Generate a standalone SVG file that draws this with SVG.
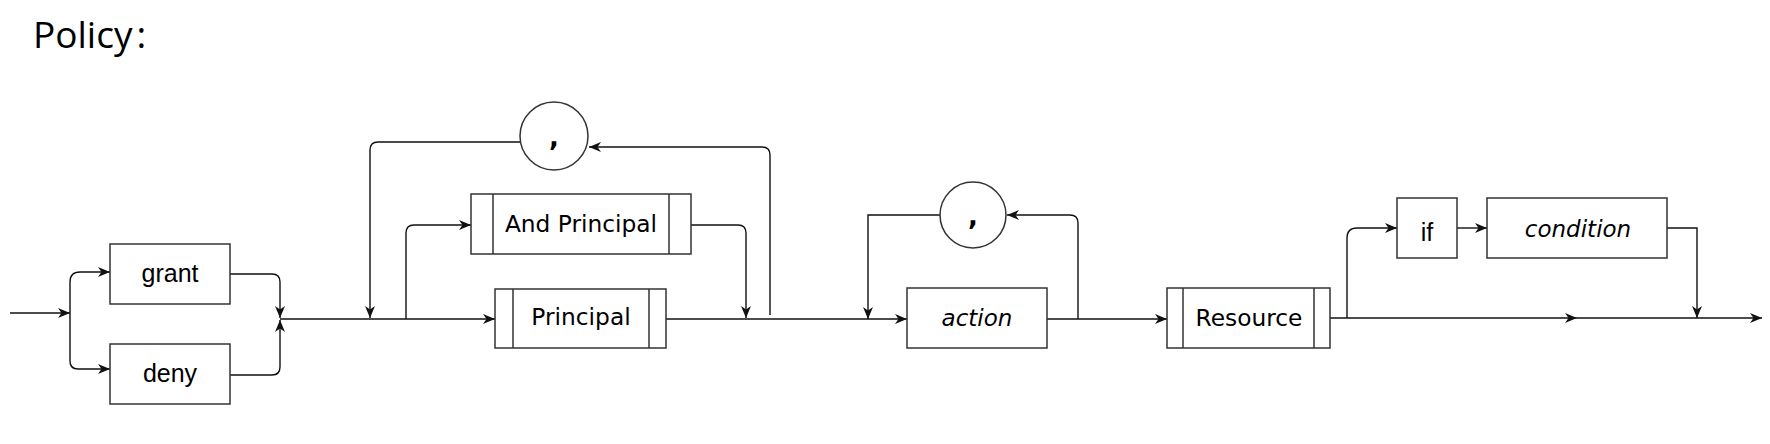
<svg xmlns="http://www.w3.org/2000/svg" width="1770" height="444" viewBox="0 0 1770 444">
<style>
.box{fill:#fff;stroke:#333;stroke-width:1.5}
.ln{fill:none;stroke:#111;stroke-width:1.4}
.edge{fill:none;stroke:#111;stroke-width:1.4;marker-end:url(#arr)}
.t{font-family:"Liberation Sans",Arial,sans-serif;font-size:25px;fill:#000;text-anchor:middle}
.v{font-family:"DejaVu Sans",Verdana,sans-serif;font-size:23.3px;fill:#000;text-anchor:middle}
.c{font-family:"DejaVu Sans",Verdana,sans-serif;font-size:26px;font-weight:bold;fill:#000;text-anchor:middle}
.i{font-family:"DejaVu Sans",Verdana,sans-serif;font-size:23px;font-style:italic;fill:#000;text-anchor:middle}
</style>
<defs>
<marker id="arr" viewBox="0 0 12 10" refX="12" refY="5" markerWidth="12" markerHeight="10" markerUnits="userSpaceOnUse" orient="auto">
<path d="M0,0 L12,5 L0,10 L3.5,5 z" fill="#111"/>
</marker>
</defs>
<rect width="1770" height="444" fill="#fff"/>
<text x="33" y="48" font-family="'Open Sans','Noto Sans',sans-serif" font-size="37" fill="#000">Policy<tspan dx="4">:</tspan></text>

<g id="connectors">
<path class="edge" d="M10,313 H70"/>
<path class="edge" d="M70,313 V282 Q70,272 80,272 H110"/>
<path class="edge" d="M70,313 V361 Q70,369 78,369 H110"/>
<path class="edge" d="M230,274 H272 Q280,274 280,282 V318"/>
<path class="edge" d="M230,375 H272 Q280,375 280,367 V320"/>
<path class="edge" d="M280,319 H495"/>
<path class="edge" d="M520,142 H378 Q370,142 370,150 V318"/>
<path class="edge" d="M406,319 V233 Q406,225 414,225 H471"/>
<path class="edge" d="M691,225 H738 Q746,225 746,233 V318"/>
<path class="ln" d="M666,319 H770"/>
<path class="edge" d="M770,319 H907"/>
<path class="edge" d="M770,315 V155 Q770,147 762,147 H589"/>
<path class="edge" d="M940,215 H868 V319"/>
<path class="edge" d="M1078,319 V223 Q1078,215 1070,215 H1007"/>
<path class="edge" d="M1047,319 H1167"/>
<path class="edge" d="M1330,318 H1577"/>
<path class="edge" d="M1577,318 H1762"/>
<path class="edge" d="M1347,318 V238 Q1347,228 1357,228 H1397"/>
<path class="edge" d="M1457,228 H1487"/>
<path class="edge" d="M1667,228 H1697 V318"/>
</g>

<g id="grant"><rect class="box" x="110" y="244" width="120" height="60"/><text class="t" x="170" y="282">grant</text></g>
<g id="deny"><rect class="box" x="110" y="344" width="120" height="60"/><text class="t" x="170" y="382">deny</text></g>
<g id="comma1"><circle class="box" cx="554" cy="136" r="34"/><text class="c" x="554" y="146">,</text></g>
<g id="and-principal"><rect class="box" x="471" y="194" width="220" height="60"/><path class="box" d="M493,194 V254 M669,194 V254"/><text class="v" x="581" y="232">And Principal</text></g>
<g id="principal"><rect class="box" x="495" y="289" width="171" height="59"/><path class="box" d="M513,289 V348 M649,289 V348"/><text class="v" x="581" y="325">Principal</text></g>
<g id="comma2"><circle class="box" cx="973" cy="215" r="33"/><text class="c" x="973" y="225">,</text></g>
<g id="action"><rect class="box" x="907" y="288" width="140" height="60"/><text class="i" x="977" y="326">action</text></g>
<g id="resource"><rect class="box" x="1167" y="288" width="163" height="60"/><path class="box" d="M1183,288 V348 M1314,288 V348"/><text class="v" x="1249" y="326">Resource</text></g>
<g id="if"><rect class="box" x="1397" y="198" width="60" height="60"/><text class="t" x="1427" y="241">if</text></g>
<g id="condition"><rect class="box" x="1487" y="198" width="180" height="60"/><text class="i" x="1578" y="237">condition</text></g>
</svg>
